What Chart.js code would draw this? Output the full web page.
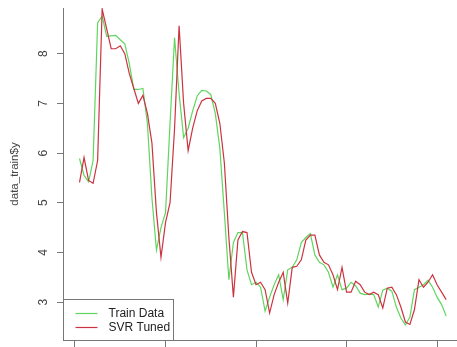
<!DOCTYPE html>
<html>
<head>
<meta charset="utf-8">
<script src="https://cdn.jsdelivr.net/npm/chart.js@4.4.0/dist/chart.umd.min.js"></script>
<style>
  html, body { margin: 0; padding: 0; background: #fff; overflow: hidden; }
  #wrap { width: 457px; height: 347px; }
</style>
</head>
<body>
<div id="wrap"><canvas id="chart" width="457" height="347"></canvas></div>
<script>
// valores (indice 1..82)
const trainData = [
  5.89, 5.55, 5.42, 5.85, 8.62, 8.76, 8.35, 8.36, 8.37, 8.28,
  8.20, 7.80, 7.28, 7.28, 7.30, 6.60, 5.10, 4.05, 4.50, 4.80,
  6.60, 8.32, 7.20, 6.31, 6.50, 6.85, 7.15, 7.26, 7.25, 7.18,
  6.80, 6.10, 4.80, 3.45, 4.20, 4.40, 4.40, 3.65, 3.35, 3.40,
  3.30, 2.82, 3.10, 3.35, 3.55, 3.05, 3.65, 3.70, 3.85, 4.20,
  4.30, 4.38, 3.95, 3.80, 3.75, 3.60, 3.30, 3.55, 3.25, 3.28,
  3.40, 3.33, 3.18, 3.15, 3.16, 3.15, 2.90, 3.24, 3.28, 3.22,
  2.90, 2.68, 2.54, 2.70, 3.25, 3.30, 3.35, 3.44, 3.30, 3.10,
  2.95, 2.72
];
const svrTuned = [
  5.41, 5.91, 5.45, 5.39, 5.85, 8.90, 8.50, 8.10, 8.10, 8.16,
  8.00, 7.60, 7.30, 7.00, 7.16, 6.80, 6.20, 4.80, 3.90, 4.60,
  5.00, 6.50, 8.56, 7.00, 6.05, 6.50, 6.85, 7.05, 7.10, 7.10,
  7.00, 6.60, 5.80, 4.30, 3.10, 4.25, 4.42, 4.40, 3.60, 3.35,
  3.40, 3.25, 2.78, 3.15, 3.40, 3.60, 2.98, 3.70, 3.72, 3.85,
  4.25, 4.35, 4.35, 3.95, 3.80, 3.75, 3.55, 3.25, 3.70, 3.20,
  3.20, 3.42, 3.35, 3.20, 3.15, 3.20, 3.15, 2.88, 3.28, 3.30,
  3.15, 2.90, 2.60, 2.55, 2.85, 3.45, 3.30, 3.40, 3.55, 3.35,
  3.20, 3.05
];
const xTicks = [0, 20, 40, 60, 80];
const yTicks = [3, 4, 5, 6, 7, 8];

const obsIndex = trainData.map((_, i) => i + 1);
const toPoints = vals => vals.map((v, i) => ({ x: obsIndex[i], y: v }));

const axisColor = '#777';
const textColor = '#444';
const fontFamily = '"Liberation Sans", Arial, sans-serif';

// leyenda con caja, estilo R (abajo a la izquierda)
const boxLegend = {
  id: 'boxLegend',
  afterDatasetsDraw(chart) {
    const ctx = chart.ctx;
    const area = chart.chartArea;
    const w = 110, h = 41;
    const x0 = Math.round(area.left) + 0.5;
    const y0 = Math.round(area.bottom) - h + 0.5;
    ctx.save();
    ctx.strokeStyle = axisColor;
    ctx.lineWidth = 1;
    ctx.strokeRect(x0, y0, w, h);
    ctx.font = '12px ' + fontFamily;
    ctx.textBaseline = 'middle';
    chart.data.datasets.forEach((ds, i) => {
      const y = y0 + 14 + i * 14;
      ctx.strokeStyle = ds.borderColor;
      ctx.lineWidth = 1.2;
      ctx.beginPath();
      ctx.moveTo(x0 + 12, y);
      ctx.lineTo(x0 + 34, y);
      ctx.stroke();
      ctx.fillStyle = '#222';
      ctx.fillText(ds.label, x0 + 45, y + 0.5);
    });
    ctx.restore();
  }
};

const ctx = document.getElementById('chart').getContext('2d');
const chart = new Chart(ctx, {
  type: 'line',
  data: {
    datasets: [
      {
        label: 'Train Data',
        data: toPoints(trainData),
        borderColor: '#5ed65e',
        borderWidth: 1.2,
        pointRadius: 0,
        tension: 0,
        order: 2
      },
      {
        label: 'SVR Tuned',
        data: toPoints(svrTuned),
        borderColor: '#cc3340',
        borderWidth: 1.2,
        pointRadius: 0,
        tension: 0,
        order: 1
      }
    ]
  },
  options: {
    responsive: false,
    animation: false,
    devicePixelRatio: 1,
    layout: { padding: { top: 8, right: 0, bottom: 0, left: 0 } },
    plugins: {
      legend: { display: false },
      tooltip: { enabled: false }
    },
    scales: {
      x: {
        type: 'linear',
        min: -2.65,
        max: 84.4,
        afterBuildTicks: s => { s.ticks = xTicks.map(v => ({ value: v })); },
        afterFit: s => {
          s.height = 7;
          s.paddingLeft = 0;
          s.paddingRight = 0;
        },
        border: { display: true, color: axisColor, width: 1 },
        grid: { display: true, drawOnChartArea: false, drawTicks: true, tickLength: 7, color: axisColor },
        ticks: { display: false }
      },
      y: {
        min: 2.237,
        max: 8.92,
        afterBuildTicks: s => { s.ticks = yTicks.map(v => ({ value: v })); },
        afterFit: s => {
          s.width = 63;
          s.paddingTop = 0;
          s.paddingBottom = 0;
        },
        border: { display: true, color: axisColor, width: 1 },
        grid: { display: true, drawOnChartArea: false, drawTicks: true, tickLength: 6, color: axisColor },
        ticks: {
          minRotation: 90,
          maxRotation: 90,
          crossAlign: 'center',
          padding: 10,
          color: textColor,
          font: { family: fontFamily, size: 12 }
        },
        title: {
          display: true,
          text: 'data_train$y',
          color: textColor,
          font: { family: fontFamily, size: 11.5 },
          padding: { top: 8, bottom: 0 }
        }
      }
    }
  },
  plugins: [boxLegend]
});
</script>
</body>
</html>
